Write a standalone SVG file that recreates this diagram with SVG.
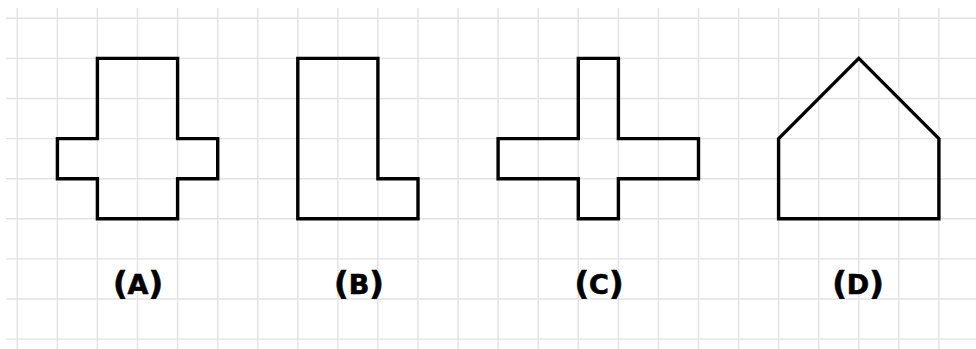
<svg xmlns="http://www.w3.org/2000/svg" width="976" height="349" viewBox="0 0 976 349">
<style>
.grid line{stroke:#e2e2e2;stroke-width:1.4}
.shape{fill:none;stroke:#000;stroke-width:3.4;stroke-linejoin:miter}
.lbl{font-family:"DejaVu Sans","Verdana",sans-serif;font-weight:bold;fill:#000;stroke:#000;stroke-width:0.6;text-anchor:middle}
.p{font-size:32px}
.l{font-size:27px}
</style>
<rect width="976" height="349" fill="#fff"/>
<g class="grid" id="grid">
<line x1="6" y1="18.3" x2="976" y2="18.3"/>
<line x1="6" y1="58.4" x2="976" y2="58.4"/>
<line x1="6" y1="98.5" x2="976" y2="98.5"/>
<line x1="6" y1="138.6" x2="976" y2="138.6"/>
<line x1="6" y1="178.7" x2="976" y2="178.7"/>
<line x1="6" y1="218.8" x2="976" y2="218.8"/>
<line x1="6" y1="258.9" x2="976" y2="258.9"/>
<line x1="6" y1="299" x2="976" y2="299"/>
<line x1="6" y1="339.1" x2="976" y2="339.1"/>
<line x1="17.3" y1="8" x2="17.3" y2="349"/>
<line x1="57.4" y1="8" x2="57.4" y2="349"/>
<line x1="97.4" y1="8" x2="97.4" y2="349"/>
<line x1="137.5" y1="8" x2="137.5" y2="349"/>
<line x1="177.6" y1="8" x2="177.6" y2="349"/>
<line x1="217.7" y1="8" x2="217.7" y2="349"/>
<line x1="257.7" y1="8" x2="257.7" y2="349"/>
<line x1="297.8" y1="8" x2="297.8" y2="349"/>
<line x1="337.9" y1="8" x2="337.9" y2="349"/>
<line x1="377.9" y1="8" x2="377.9" y2="349"/>
<line x1="418" y1="8" x2="418" y2="349"/>
<line x1="458.1" y1="8" x2="458.1" y2="349"/>
<line x1="498.1" y1="8" x2="498.1" y2="349"/>
<line x1="538.2" y1="8" x2="538.2" y2="349"/>
<line x1="578.3" y1="8" x2="578.3" y2="349"/>
<line x1="618.4" y1="8" x2="618.4" y2="349"/>
<line x1="658.4" y1="8" x2="658.4" y2="349"/>
<line x1="698.5" y1="8" x2="698.5" y2="349"/>
<line x1="738.6" y1="8" x2="738.6" y2="349"/>
<line x1="778.6" y1="8" x2="778.6" y2="349"/>
<line x1="818.7" y1="8" x2="818.7" y2="349"/>
<line x1="858.8" y1="8" x2="858.8" y2="349"/>
<line x1="898.8" y1="8" x2="898.8" y2="349"/>
<line x1="938.9" y1="8" x2="938.9" y2="349"/>
</g>
<g id="shapeA">
<path class="shape" d="M97.4 58.4 H177.6 V138.6 H217.7 V178.7 H177.6 V218.8 H97.4 V178.7 H57.4 V138.6 H97.4 Z"/>
<text class="lbl" x="138" y="294"><tspan class="p">(</tspan><tspan class="l">A</tspan><tspan class="p">)</tspan></text>
</g>
<g id="shapeB">
<path class="shape" d="M297.8 58.4 H377.9 V178.7 H418 V218.8 H297.8 Z"/>
<text class="lbl" x="359" y="294"><tspan class="p">(</tspan><tspan class="l">B</tspan><tspan class="p">)</tspan></text>
</g>
<g id="shapeC">
<path class="shape" d="M578.3 58.4 H618.4 V138.6 H698.5 V178.7 H618.4 V218.8 H578.3 V178.7 H498.1 V138.6 H578.3 Z"/>
<text class="lbl" x="599" y="294"><tspan class="p">(</tspan><tspan class="l">C</tspan><tspan class="p">)</tspan></text>
</g>
<g id="shapeD">
<path class="shape" d="M858.8 58.4 L938.9 138.6 V218.8 H778.6 V138.6 Z"/>
<text class="lbl" x="858" y="294"><tspan class="p">(</tspan><tspan class="l">D</tspan><tspan class="p">)</tspan></text>
</g>
<g id="connectors"/>
</svg>
